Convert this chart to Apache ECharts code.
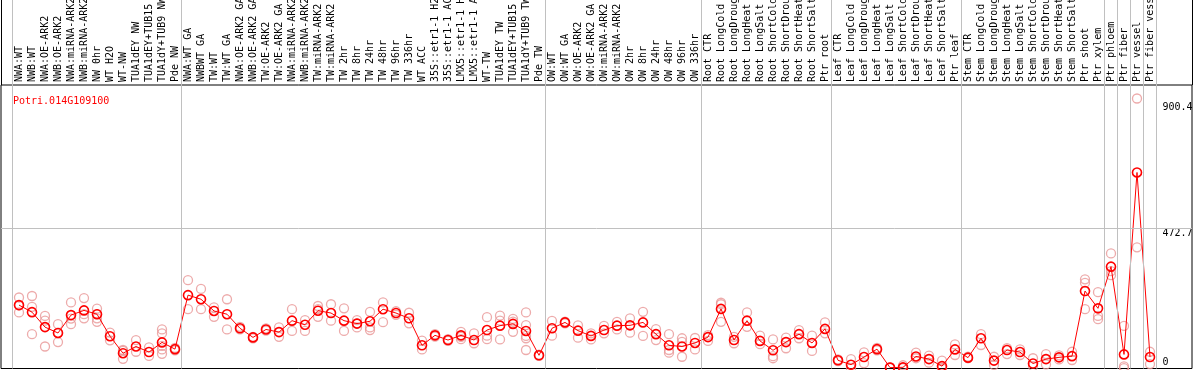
<!DOCTYPE html>
<html><head><meta charset="utf-8">
<script src="https://cdn.jsdelivr.net/npm/echarts@6/dist/echarts.min.js"></script>
<style>html,body{margin:0;padding:0;background:#fff}#c{width:1194px;height:370px}</style>
</head><body><div id="c"></div>
<script>
const geneName = 'Potri.014G109100';
const categories = [
 'NWA:WT','NWB:WT','NWA:OE-ARK2','NWB:OE-ARK2','NWA:miRNA-ARK2','NWB:miRNA-ARK2','NW 0hr','WT H2O','WT-NW','TUA1dEY NW','TUA1dEY+TUB15 NW','TUA1dY+TUB9 NW','Pde NW',
 'NWA:WT GA','NWBWT GA','TW:WT','TW:WT GA','NWA:OE-ARK2 GA','NWB:OE-ARK2 GA','TW:OE-ARK2','TW:OE-ARK2 GA','NWA:miRNA-ARK2 GA','NWB:miRNA-ARK2 GA','TW:miRNA-ARK2','TW:miRNA-ARK2 GA',
 'TW 2hr','TW 8hr','TW 24hr','TW 48hr','TW 96hr','TW 336hr','WT ACC','35S::etr1-1 H2O','35S::etr1-1 ACC','LMX5::etr1-1 H2O','LMX5::etr1-1 ACC','WT-TW','TUA1dEY TW','TUA1dEY+TUB15 TW','TUA1dY+TUB9 TW','Pde TW',
 'OW:WT','OW:WT GA','OW:OE-ARK2','OW:OE-ARK2 GA','OW:miRNA-ARK2','OW:miRNA-ARK2 GA','OW 2hr','OW 8hr','OW 24hr','OW 48hr','OW 96hr','OW 336hr',
 'Root CTR','Root LongCold','Root LongDrought','Root LongHeat','Root LongSalt','Root ShortCold','Root ShortDrought','Root ShortHeat','Root ShortSalt','Ptr root',
 'Leaf CTR','Leaf LongCold','Leaf LongDrought','Leaf LongHeat','Leaf LongSalt','Leaf ShortCold','Leaf ShortDrought','Leaf ShortHeat','Leaf ShortSalt','Ptr leaf',
 'Stem CTR','Stem LongCold','Stem LongDrought','Stem LongHeat','Stem LongSalt','Stem ShortCold','Stem ShortDrought','Stem ShortHeat','Stem ShortSalt','Ptr shoot',
 'Ptr xylem','Ptr phloem','Ptr fiber','Ptr vessel','Ptr fiber vessel'
];
const meanValues = [
 211,187,136,116,177,193,180,105,47,70,51,84,61,
 245,231,191,180,132,101,128,119,158,144,192,184,158,148,156,197,184,166,74,108,92,108,92,126,141,147,123,40,
 132,152,124,106,126,141,142,152,112,74,70,82,
 102,198,92,158,89,57,85,112,82,130,
 23,8,34,61,-2,-1,36,27,3,60,
 32,98,22,58,51,12,27,33,37,259,
 200,342,43,663,34
];
const replicateValues = [
 [237,210,186],[242,205,112],[174,158,70],[146,116,85],[220,165,146],[235,180,166],[199,180,166,154],[117,91],[58,55,28],[92,52],[67,38],[128,115,72,60,45],[65,57],
 [296,197],[266,197],[203,171],[231,128],[137,128],[103,98],[132,124],[135,103],[197,123],[160,123],[208,197,171],[214,158],[200,123],[160,149,135],[188,135,126],[220,153],[190,178],[185,149],[90,60],[112,104],[95,89],[120,103,95],[115,81],[170,107,95],[175,158,94],[164,155,120],[186,143,106,98,58],[42,38],
 [157,107],[155,149],[142,100],[115,94],[140,115],[154,128],[166,117],[188,106],[129,92],[112,58,49],[98,86,35],[99,60],
 [109,89],[219,214,154],[103,81],[186,137],[107,78],[94,37,30],[100,64],[126,98],[107,55],[152,115],
 [26,20],[27,-4],[50,13],[65,57],[0,-3],[6,-4],[49,30],[39,15],[22,-4,-4],[77,41],
 [35,30],[112,75],[35,7],[64,44],[60,41],[30,3],[44,9],[40,26],[52,24],[299,287,197],
 [255,174,163],[387,327,313],[140,2,-4],[915,408],[52,10]
];
const groupBoundaries = [-0.5,12.5,40.5,52.5,62.5,72.5,83.5,84.5,85.5,86.5,87.5];
const yTickLabels = [472.7, 900.4];
const yZeroLabel = [0];
const yGridValues = [472.7];
const yMin = -5, yMax = 961;

const repData = [];
replicateValues.forEach((arr, i) => arr.forEach(v => repData.push([i, v])));

const mono = 'DejaVu Sans Mono';
const chart = echarts.init(document.getElementById('c'), null, {renderer: 'canvas'});
chart.setOption({
  animation: false,
  title: {text: geneName, left: 8, top: 91, textStyle: {color: '#ff0000', fontFamily: mono, fontSize: 10, fontWeight: 'normal'}},
  grid: [
    {left: 12.5, width: 1144, top: 85, height: 283.5, containLabel: false, outerBoundsMode: 'none'},
    {left: 12.5, width: 1144, top: 0, height: 368.5, containLabel: false, outerBoundsMode: 'none'},
    {left: 1, right: 2, top: 85, height: 283.5, show: true, borderColor: '#000', borderWidth: 1, backgroundColor: 'transparent', containLabel: false, outerBoundsMode: 'none'}
  ],
  xAxis: [
    {gridIndex: 0, type: 'category', position: 'top', data: categories, boundaryGap: true,
     axisLine: {show: false}, axisTick: {show: false}, splitLine: {show: false},
     axisLabel: {interval: 0, rotate: 90, align: 'left', verticalAlign: 'middle', margin: 3, fontFamily: mono, fontSize: 10, color: '#000'}},
    {gridIndex: 1, type: 'value', min: -0.5, max: 87.5, show: false},
    {gridIndex: 2, type: 'value', min: 0, max: 1, show: false}
  ],
  yAxis: [
    {gridIndex: 0, type: 'value', min: yMin, max: yMax, position: 'right',
     axisLine: {show: false}, axisTick: {show: false}, splitLine: {show: false},
     axisLabel: {customValues: yTickLabels, formatter: v => String(v), verticalAlign: 'top', margin: 6, fontFamily: mono, fontSize: 10, color: '#000'}},
    {gridIndex: 0, type: 'value', min: yMin, max: yMax, position: 'right',
     axisLine: {show: false}, axisTick: {show: false}, splitLine: {show: false},
     axisLabel: {customValues: yZeroLabel, formatter: v => String(v), verticalAlign: 'bottom', margin: 6, fontFamily: mono, fontSize: 10, color: '#000'}},
    {gridIndex: 1, type: 'value', min: 0, max: 1, show: false},
    {gridIndex: 2, type: 'value', min: yMin, max: yMax, show: false}
  ],
  series: [
    {type: 'line', xAxisIndex: 1, yAxisIndex: 2, data: [], silent: true,
     markLine: {silent: true, symbol: ['none','none'], label: {show: false},
       lineStyle: {color: '#c0c0c0', width: 1, type: 'solid'},
       data: groupBoundaries.map(b => ({xAxis: b}))}},
    {type: 'line', xAxisIndex: 2, yAxisIndex: 3, data: [], silent: true,
     markLine: {silent: true, symbol: ['none','none'], label: {show: false},
       lineStyle: {color: '#c0c0c0', width: 1, type: 'solid'},
       data: yGridValues.map(v => ({yAxis: v}))}},
    {type: 'scatter', xAxisIndex: 0, yAxisIndex: 0, data: repData, symbol: 'circle', symbolSize: 9,
     itemStyle: {color: 'rgba(0,0,0,0)', borderColor: '#e89696', borderWidth: 1.3}, silent: true, z: 3},
    {type: 'line', xAxisIndex: 0, yAxisIndex: 0, data: meanValues, symbol: 'circle', symbolSize: 9, showAllSymbol: true,
     lineStyle: {color: '#ff0000', width: 1}, itemStyle: {color: 'rgba(0,0,0,0)', borderColor: '#ff0000', borderWidth: 1.6}, silent: true, z: 4}
  ],
  graphic: [
    {type: 'line', shape: {x1: 1.5, y1: 0, x2: 1.5, y2: 85}, style: {stroke: '#000', lineWidth: 1}, silent: true},
    {type: 'line', shape: {x1: 1192.5, y1: 0, x2: 1192.5, y2: 85}, style: {stroke: '#000', lineWidth: 1}, silent: true}
  ]
});
</script></body></html>
